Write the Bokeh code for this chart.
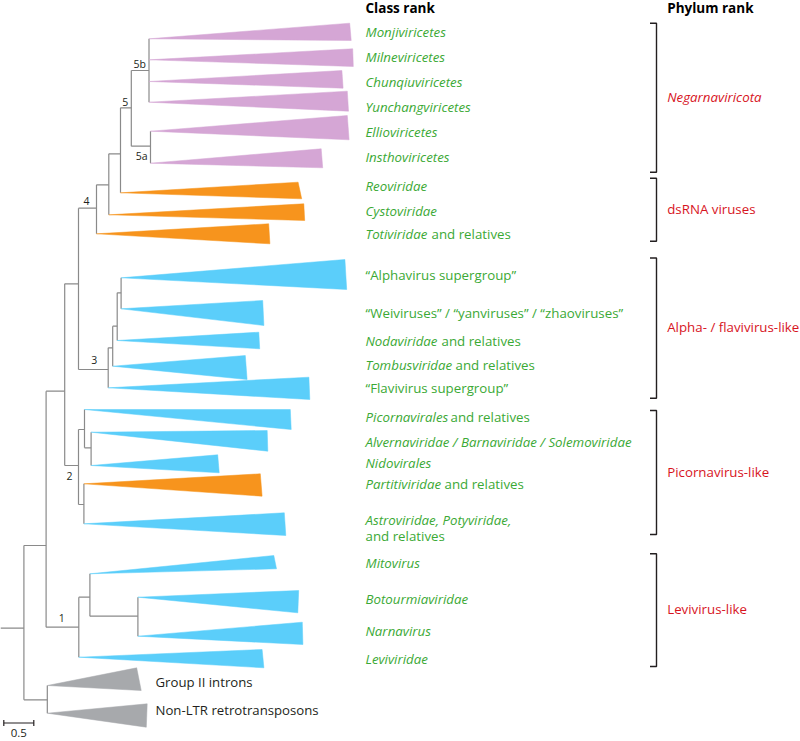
from bokeh.plotting import figure
from bokeh.models import Range1d
from bokeh.core.properties import value
from bokeh.embed import file_html
from bokeh.resources import INLINE

# ---------------- data ----------------
# internal nodes of the tree: depth in substitutions/site, row = vertical layout position
node_names = ["R", "I", "O", "A", "B", "N4", "C1", "C2", "N5", "N5b", "N5a",
              "N3", "D1", "D2", "D3", "N2", "E1", "E3", "E2", "N1", "F1", "F2"]
node_parents = [None, "R", "R", "I", "A", "B", "N4", "C1", "C2", "N5", "N5",
                "B", "N3", "D1", "D2", "A", "N2", "E1", "N2", "I", "N1", "F1"]
node_depth = [0.39, 0.76, 0.78, 1.07, 1.30, 1.60, 1.805, 2.00, 2.18, 2.475, 2.50,
              1.795, 1.87, 1.945, 2.01, 1.30, 1.40, 1.51, 1.39, 1.305, 1.49, 2.29]
node_row = [627.7, 545, 699.3, 390.7, 283.3, 207.7, 184.3, 153.3, 107.3, 70, 145.7,
            369, 347.3, 325.7, 292.3, 465, 429, 447.3, 504, 626.7, 596.7, 615.7]

# node support labels
support_nodes = ["N5b", "N5", "N5a", "N4", "N3", "N2", "N1"]
support_text = ["5b", "5", "5a", "4", "3", "2", "1"]

# collapsed clades (triangles)
clade_italic = ["Monjiviricetes", "Milneviricetes", "Chunqiuviricetes", "Yunchangviricetes",
                "Ellioviricetes", "Insthoviricetes", "Reoviridae", "Cystoviridae", "Totiviridae",
                "", "", "Nodaviridae", "Tombusviridae", "",
                "Picornavirales", "Alvernaviridae / Barnaviridae / Solemoviridae", "Nidovirales",
                "Partitiviridae", "Astroviridae, Potyviridae,",
                "Mitovirus", "Botourmiaviridae", "Narnavirus", "Leviviridae", "", ""]
clade_regular = ["", "", "", "", "", "", "", "", "and relatives",
                 "\u201cAlphavirus supergroup\u201d",
                 "\u201cWeiviruses\u201d / \u201cyanviruses\u201d / \u201czhaoviruses\u201d",
                 "and relatives", "and relatives", "\u201cFlavivirus supergroup\u201d",
                 "and relatives", "", "", "and relatives", "and relatives",
                 "", "", "", "", "Group II introns", "Non-LTR retrotransposons"]
clade_parent = ["N5b", "N5b", "N5b", "N5b", "N5a", "N5a", "C2", "C1", "N4",
                "D3", "D3", "D2", "D1", "N3", "E1", "E3", "E3", "E2", "E2",
                "F1", "F2", "F2", "N1", "O", "O"]
clade_row = [38.3, 59.3, 81, 101.7, 130.7, 162.7, 192.3, 214.3, 233.3,
             277.3, 308.3, 340, 365.7, 387.3, 409, 431.7, 465, 483.3, 523.3,
             573.3, 596.7, 635.7, 656.7, 685, 712.7]
clade_depth_top = [5.82, 5.87, 5.69, 5.78, 5.78, 5.345, 4.96, 5.055, 4.47,
                   5.74, 4.37, 4.305, 4.08, 5.14, 4.83, 4.445, 3.62, 4.33, 4.73,
                   4.555, 4.97, 5.03, 4.36, 2.27, 2.445]
clade_row_top = [22.7, 48.3, 70, 90.7, 115, 148.3, 181.7, 203.3, 223.3,
                 259, 300, 331.7, 355, 376.7, 409, 430, 454.3, 473.3, 512.3,
                 555, 590, 621.7, 649, 667.3, 703.3]
clade_depth_bot = [5.845, 5.88, 5.71, 5.80, 5.81, 5.37, 5.02, 5.07, 4.49,
                   5.77, 4.39, 4.32, 4.11, 5.155, 4.845, 4.455, 3.645, 4.36, 4.755,
                   4.60, 4.955, 5.04, 4.39, 2.345, 2.43]
clade_row_bot = [40, 66, 87.7, 110.7, 139.3, 167.3, 198.3, 220, 243.3,
                 289, 325, 348.3, 379, 399, 429, 450.7, 472.3, 495.7, 535,
                 568.3, 612.3, 644, 667.3, 690, 726.7]
clade_kind = ["neg"] * 6 + ["ds"] * 3 + ["ss"] * 8 + ["ds"] + ["ss"] * 5 + ["out"] * 2
clade_label_row = [31, 56, 81, 106.7, 131, 156.7, 185, 210.7, 233.3,
                   274, 312.7, 340.7, 364.3, 387.3, 416.7, 441.7, 462.7, 483.3, 519.3,
                   562.7, 598.3, 630, 658.3, 681.7, 709.3]

# phylum-rank brackets
phylum_names = ["Negarnaviricota", "dsRNA viruses", "Alpha- / flavivirus-like",
                "Picornavirus-like", "Levivirus-like"]
phylum_italic = [True, False, False, False, False]
phylum_top = [22.7, 177.7, 257.5, 410, 553.3]
phylum_bottom = [171.7, 240.7, 397.7, 534, 666]

scale_bar_length = 0.5

# ---------------- styling ----------------
W, H = 800, 741
PXU = 60.0          # pixels per substitution unit
FONT = value("Open Sans")
KIND_COLOR = {"neg": "#D5A6D5", "ds": "#F7941D", "ss": "#5BCEFA", "out": "#A7A9AC"}
GREEN = "#3BA935"
RED = "#D7141E"
BRANCH = "#8A8A8A"
FS_LABEL = "13.3px"

p = figure(width=W, height=H, output_backend="svg", toolbar_location=None,
           x_range=Range1d(0, W / PXU), y_range=Range1d(H, 0),
           min_border=0, outline_line_color=None)
p.xaxis.visible = False
p.yaxis.visible = False
p.grid.visible = False

nodes = {n: (d, r, par) for n, d, r, par in zip(node_names, node_depth, node_row, node_parents)}

# child rows per internal node
children = {n: [] for n in node_names}
for n, par in zip(node_names, node_parents):
    if par is not None:
        children[par].append(nodes[n][1])
for par, r in zip(clade_parent, clade_row):
    children[par].append(r)

xs, ys = [], []
for n in node_names:
    d, r, par = nodes[n]
    rows = children[n]
    xs.append([d, d]); ys.append([min(rows), max(rows)])
    pd = nodes[par][0] if par is not None else 0.0
    xs.append([pd, d]); ys.append([r, r])
p.multi_line(xs, ys, line_color=BRANCH, line_width=1.2)

# triangles
txs, tys, tcol = [], [], []
for par, r, dt, rt, db, rb, k in zip(clade_parent, clade_row, clade_depth_top, clade_row_top,
                                     clade_depth_bot, clade_row_bot, clade_kind):
    d0 = nodes[par][0]
    txs.append([d0, dt, db]); tys.append([r, rt, rb]); tcol.append(KIND_COLOR[k])
p.patches(txs, tys, fill_color=tcol, line_color=tcol, line_width=0.5)

# support labels
sup_off = {"5b": (-3, -7, "right"), "5": (-3, -6, "right"), "5a": (-3, 10, "right"),
           "4": (-7, -7, "right"), "3": (-11, -10, "right"), "2": (-6, 10, "right"),
           "1": (-14, -9, "right")}
for n, t in zip(support_nodes, support_text):
    d, r, _ = nodes[n]
    dx, dy, al = sup_off[t]
    p.text([d], [r], text=[t], x_offset=dx, y_offset=dy, text_align=al,
           text_baseline="middle", text_font=FONT, text_font_size="10.5px", text_color="#231F20")

# clade labels
LX = 365 / PXU
regular_after = {"Totiviridae": 66, "Nodaviridae": 76, "Tombusviridae": 90,
                 "Picornavirales": 85, "Partitiviridae": 79}
for it, rg, lr, k in zip(clade_italic, clade_regular, clade_label_row, clade_kind):
    if k == "out":
        p.text([155 / PXU], [lr], text=[rg], text_baseline="middle", text_font=FONT,
               text_font_size="13.2px", text_color="#231F20")
        continue
    if it:
        p.text([LX], [lr], text=[it], text_baseline="middle", text_font=FONT,
               text_font_style="italic", text_font_size=FS_LABEL, text_color=GREEN)
    if rg:
        if it and it in regular_after:
            p.text([LX], [lr], text=[rg], x_offset=regular_after[it], text_baseline="middle",
                   text_font=FONT, text_font_size=FS_LABEL, text_color=GREEN)
        elif it:
            p.text([LX], [lr + 16.4], text=[rg], text_baseline="middle",
                   text_font=FONT, text_font_size=FS_LABEL, text_color=GREEN)
        else:
            p.text([LX], [lr], text=[rg], text_baseline="middle",
                   text_font=FONT, text_font_size=FS_LABEL, text_color=GREEN)

# headers
p.text([LX], [7], text=["Class rank"], text_baseline="middle", text_font=FONT,
       text_font_style="bold", text_font_size="13.5px", text_color="#000000")
p.text([666.7 / PXU], [7], text=["Phylum rank"], text_baseline="middle", text_font=FONT,
       text_font_style="bold", text_font_size="13.5px", text_color="#000000")

# brackets
BX = 656 / PXU
TICK = 6.5 / PXU
bxs, bys = [], []
for t, b in zip(phylum_top, phylum_bottom):
    bxs.append([BX - TICK, BX, BX, BX - TICK]); bys.append([t, t, b, b])
p.multi_line(bxs, bys, line_color="#231F20", line_width=1.4)
for name, it, t, b in zip(phylum_names, phylum_italic, phylum_top, phylum_bottom):
    p.text([666.7 / PXU], [(t + b) / 2 - 1], text=[name], text_baseline="middle", text_font=FONT,
           text_font_style="italic" if it else "normal", text_font_size="13.3px", text_color=RED)

# scale bar
sx0 = 3.3 / PXU
sy = 722.5
p.multi_line([[sx0, sx0 + scale_bar_length], [sx0, sx0], [sx0 + scale_bar_length, sx0 + scale_bar_length]],
             [[sy, sy], [sy - 3, sy + 3], [sy - 3, sy + 3]], line_color="#231F20", line_width=1.2)
p.text([sx0 + scale_bar_length / 2], [sy + 9.5], text=[str(scale_bar_length)], text_align="center",
       text_baseline="middle", text_font=FONT, text_font_size="11.5px", text_color="#231F20")

open("out.html", "w").write(file_html(p, INLINE))
